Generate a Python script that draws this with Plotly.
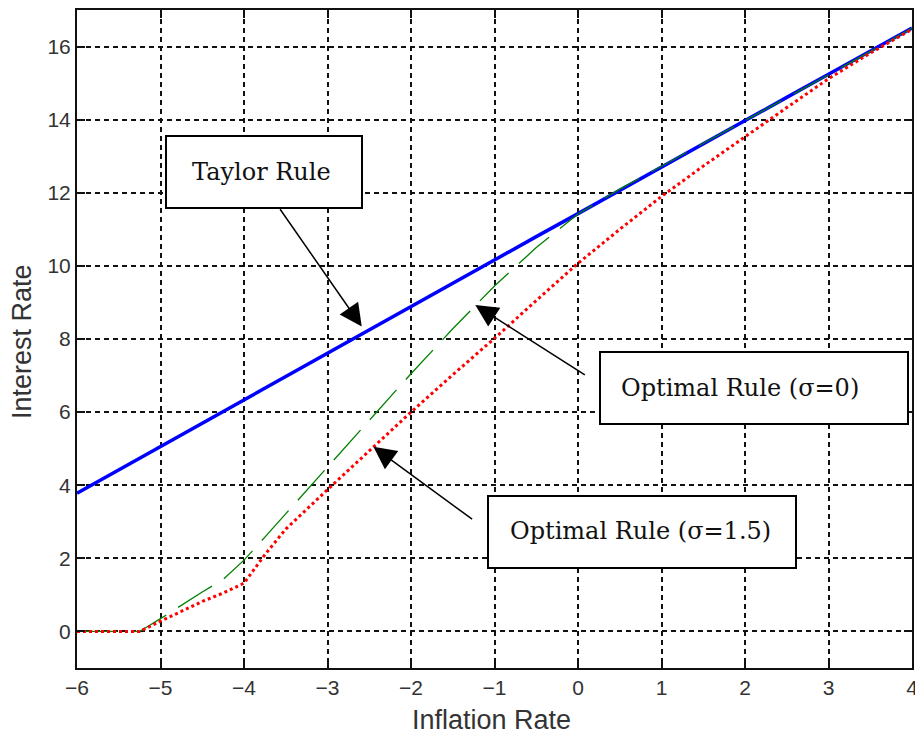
import plotly.graph_objects as go

# Inflation rate (x) grid
inflation = [-6, -5.5, -5.25, -5, -4.75, -4.5, -4.25, -4, -3.75, -3.5, -3, -2.5, -2,
             -1.5, -1, -0.5, 0, 0.5, 1, 1.5, 2, 2.5, 3, 3.5, 4]

# Interest rate under each rule
taylor_rule = [3.78, 4.42, 4.74, 5.06, 5.38, 5.70, 6.02, 6.34, 6.66, 6.98, 7.62, 8.26, 8.90,
               9.53, 10.16, 10.80, 11.43, 12.07, 12.70, 13.34, 13.97, 14.61, 15.24, 15.88, 16.51]
optimal_sigma0 = [0, 0, 0, 0.35, 0.72, 1.08, 1.42, 1.95, 2.58, 3.22, 4.52, 5.80, 7.05,
                  8.28, 9.45, 10.50, 11.42, 12.10, 12.72, 13.35, 13.98, 14.60, 15.23, 15.87, 16.50]
optimal_sigma15 = [0, 0, 0, 0.28, 0.55, 0.82, 1.05, 1.32, 2.10, 2.80, 3.88, 4.95, 6.00,
                   7.02, 8.02, 9.05, 10.07, 11.00, 11.90, 12.73, 13.54, 14.33, 15.12, 15.82, 16.47]

x_ticks = [-6, -5, -4, -3, -2, -1, 0, 1, 2, 3, 4]
y_ticks = [0, 2, 4, 6, 8, 10, 12, 14, 16]

x_title = "Inflation Rate"
y_title = "Interest Rate"
label_taylor = "Taylor Rule"
label_opt0 = "Optimal Rule (σ=0)"
label_opt15 = "Optimal Rule (σ=1.5)"

fig = go.Figure()
fig.add_trace(go.Scatter(x=inflation, y=taylor_rule, mode="lines",
                         line=dict(color="#0000ff", width=3.5), name=label_taylor))
fig.add_trace(go.Scatter(x=inflation, y=optimal_sigma0, mode="lines",
                         line=dict(color="#008000", width=1.3, dash="40px,14px"), name=label_opt0))
fig.add_trace(go.Scatter(x=inflation, y=optimal_sigma15, mode="lines",
                         line=dict(color="#ff0000", width=3, dash="3px,3px"), name=label_opt15))

L, R, T, B = 77, 3, 10, 70
W, H = 915, 738
pw, ph = W - L - R, H - T - B


def px2paper(px, py):
    return (px - L) / pw, (H - B - py) / ph


axis_common = dict(
    showline=True, linecolor="#111", linewidth=2, mirror="ticks",
    ticks="inside", ticklen=8, tickwidth=1.5, tickcolor="#111",
    showgrid=True, gridcolor="#111", gridwidth=1.7, griddash="5px,4px",
    zeroline=False, ticklabeloverflow="allow", automargin=False,
    tickfont=dict(family="Liberation Sans, Arial, sans-serif", size=21, color="#333"),
)

fig.update_xaxes(range=[-6, 4], tickvals=x_ticks, **axis_common)
fig.update_yaxes(range=[-1, 17], tickvals=y_ticks, **axis_common)

shapes = []
annotations = []

# text boxes: (left, top, right, bottom) px, text center px, text
boxes = [
    ((166, 136, 362, 208), (261, 172), label_taylor),
    ((600, 352, 908, 424), (740, 388), label_opt0),
    ((488, 496, 796, 568), (640, 531), label_opt15),
]
for (l, t, r, b), (cx, cy), txt in boxes:
    x0, y1 = px2paper(l, t)
    x1, y0 = px2paper(r, b)
    shapes.append(dict(type="rect", xref="paper", yref="paper", x0=x0, x1=x1, y0=y0, y1=y1,
                       line=dict(color="#000", width=2), fillcolor="white", layer="above"))
    tx, ty = px2paper(cx, cy)
    annotations.append(dict(xref="paper", yref="paper", x=tx, y=ty, text=txt, showarrow=False,
                            xanchor="center", yanchor="middle",
                            font=dict(family="DejaVu Serif, serif", size=24, color="#111")))

# arrows: head (x, y), tail (ax, ay) in data units
arrows = [
    ((-2.59, 8.34), (-3.58, 11.59)),
    ((-1.23, 8.93), (0.10, 6.99)),
    ((-2.45, 5.05), (-1.25, 3.04)),
]
for (hx, hy), (tx, ty) in arrows:
    annotations.append(dict(x=hx, y=hy, ax=tx, ay=ty, xref="x", yref="y", axref="x", ayref="y",
                            text="", showarrow=True, arrowhead=2, arrowsize=3, arrowwidth=1.5,
                            arrowcolor="#000"))

# axis titles
xt, yt = px2paper(491, 720)
annotations.append(dict(xref="paper", yref="paper", x=xt, y=yt, text=x_title, showarrow=False,
                        xanchor="center", yanchor="middle",
                        font=dict(family="Liberation Sans, Arial, sans-serif", size=27, color="#333")))
xt, yt = px2paper(22, 341)
annotations.append(dict(xref="paper", yref="paper", x=xt, y=yt, text=y_title, showarrow=False,
                        textangle=-90, xanchor="center", yanchor="middle",
                        font=dict(family="Liberation Sans, Arial, sans-serif", size=27, color="#333")))

fig.update_layout(
    width=W, height=H,
    margin=dict(l=L, r=R, t=T, b=B, autoexpand=False),
    plot_bgcolor="white", paper_bgcolor="white",
    showlegend=False,
    shapes=shapes, annotations=annotations,
)

fig.write_html("out.html", config={"displayModeBar": False})
